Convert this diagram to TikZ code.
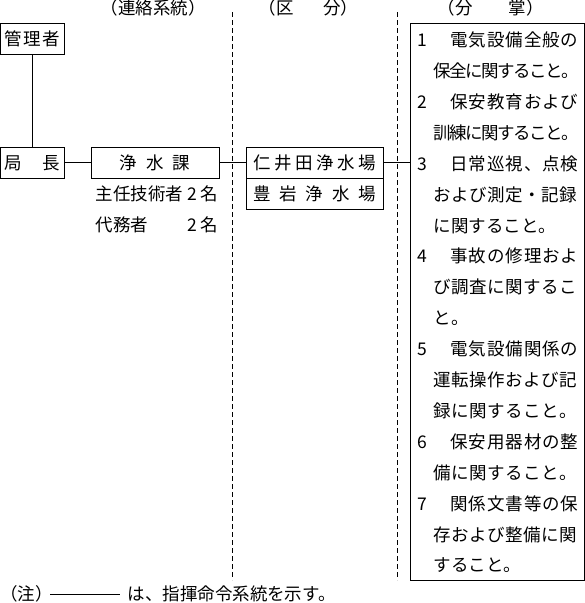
\documentclass[tikz,border=0pt]{standalone}
\usepackage{fontspec}
\setmainfont{Noto Sans CJK JP}

% spread the characters of a line over a given width
\newcommand\fitline[2]{\makebox[#1][s]{\expandafter\spreadfirst#2\relax}}
\def\spreadfirst#1{#1\spreadrest}
\def\spreadrest#1{\ifx#1\relax\else\hss#1\expandafter\spreadrest\fi}

\begin{document}
\begin{tikzpicture}[x=1pt, y=-1pt, line width=1pt, font=\fontsize{17.5pt}{20pt}\selectfont]
            \tikzstyle{txt}=[inner sep=0pt, text height=14pt, text depth=0.7pt]
            \tikzstyle{caixa}=[draw, txt, minimum height=31pt]
            \tikzstyle{divisa}=[dash pattern=on 5pt off 3pt]

                \useasboundingbox (0,0) rectangle (585,603);

                % Cabeçalhos
                \node[txt] (hdlig) at (153,8) {（連絡系統）};
                \node[txt, anchor=west] (hdcls) at (258,8) {（区\hspace{30pt}分）};
                \node[txt, anchor=west] (hdatr) at (437,8) {（分\hspace{36pt}掌）};

                % Caixas
                \node[caixa, minimum width=64pt] (kanri) at (32.5,38.5) {\fitline{55pt}{管理者}};
                \node[caixa, minimum width=64pt] (kyoku) at (32.5,162.5) {\fitline{55pt}{局長}};
                \node[caixa, minimum width=128pt] (josui) at (155,162.5) {\fitline{71pt}{浄水課}};
                \node[caixa, minimum width=137pt] (niida) at (314.5,162.5) {\fitline{123pt}{仁井田浄水場}};
                \node[caixa, minimum width=137pt] (toyoiwa) at (314.5,193.5) {\fitline{123pt}{豊岩浄水場}};
                \node[draw, minimum width=174pt, minimum height=557pt] (bunsho) at (497,301.5) {};

                \node[txt, anchor=west] (shunin) at (95,194) {主任技術者};
                \node[txt, anchor=east] (shunin2) at (219,194) {2 名};
                \node[txt, anchor=west] (daimu) at (95,225) {代務者};
                \node[txt, anchor=east] (daimu2) at (219,225) {2 名};

                % Ligações
                \draw (kanri) -- (kyoku);
                \draw (kyoku) -- (josui);
                \draw (josui) -- (niida);
                \draw (niida.east) -- (niida.east -| bunsho.west);

                % Divisas
                \coordinate (div1a) at (232.5,12);
                \coordinate (div1b) at (232.5,580);
                \coordinate (div2a) at (397.5,12);
                \coordinate (div2b) at (397.5,580);
                \draw[divisa] (div1a) -- (div1b);
                \draw[divisa] (div2a) -- (div2b);

                % Texto do quadro
                \node[txt, anchor=west] (n1) at (417,40) {1};
                \node[txt, anchor=west] (t1) at (450,40) {\fitline{128pt}{電気設備全般の}};
                \node[txt, anchor=west] (t2) at (433,70.9) {\fitline{145pt}{保全に関すること。}};
                \node[txt, anchor=west] (n2) at (417,101.8) {2};
                \node[txt, anchor=west] (t3) at (450,101.8) {\fitline{128pt}{保安教育および}};
                \node[txt, anchor=west] (t4) at (433,132.7) {\fitline{145pt}{訓練に関すること。}};
                \node[txt, anchor=west] (n3) at (417,163.6) {3};
                \node[txt, anchor=west] (t5) at (450,163.6) {\fitline{128pt}{日常巡視、点検}};
                \node[txt, anchor=west] (t6) at (433,194.5) {\fitline{144pt}{および測定・記録}};
                \node[txt, anchor=west] (t7) at (433,225.4) {に関すること。};
                \node[txt, anchor=west] (n4) at (417,256.3) {4};
                \node[txt, anchor=west] (t8) at (450,256.3) {\fitline{128pt}{事故の修理およ}};
                \node[txt, anchor=west] (t9) at (433,287.2) {\fitline{144pt}{び調査に関するこ}};
                \node[txt, anchor=west] (t10) at (433,318.1) {と。};
                \node[txt, anchor=west] (n5) at (417,349) {5};
                \node[txt, anchor=west] (t11) at (450,349) {\fitline{128pt}{電気設備関係の}};
                \node[txt, anchor=west] (t12) at (433,379.9) {\fitline{144pt}{運転操作および記}};
                \node[txt, anchor=west] (t13) at (433,410.8) {\fitline{144pt}{録に関すること。}};
                \node[txt, anchor=west] (n6) at (417,441.7) {6};
                \node[txt, anchor=west] (t14) at (450,441.7) {\fitline{128pt}{保安用器材の整}};
                \node[txt, anchor=west] (t15) at (433,472.6) {\fitline{144pt}{備に関すること。}};
                \node[txt, anchor=west] (n7) at (417,503.5) {7};
                \node[txt, anchor=west] (t16) at (450,503.5) {\fitline{128pt}{関係文書等の保}};
                \node[txt, anchor=west] (t17) at (433,534.4) {\fitline{144pt}{存および整備に関}};
                \node[txt, anchor=west] (t18) at (433,565.3) {すること。};

                % Nota
                \node[txt, anchor=west] (nota) at (0,594) {（注）};
                \coordinate (leg1) at (50,594);
                \coordinate (leg2) at (120,594);
                \draw (leg1) -- (leg2);
                \node[txt, anchor=west] (notatxt) at (127,594) {は、指揮命令系統を示す。};
        \end{tikzpicture}
\end{document}
